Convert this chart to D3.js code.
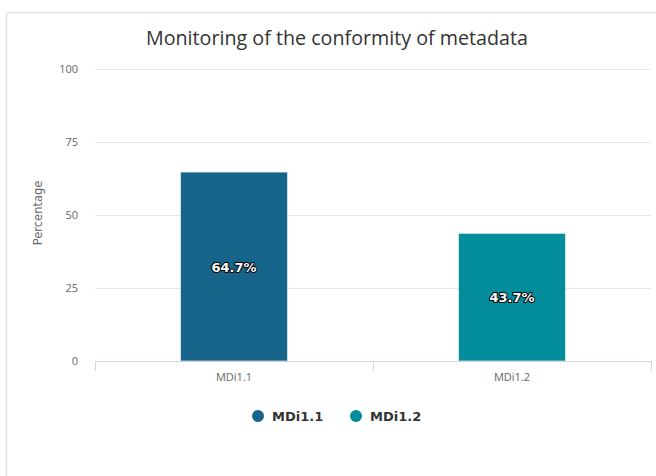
<!DOCTYPE html>
<html>
<head>
<meta charset="utf-8">
<script src="https://cdn.jsdelivr.net/npm/d3@7"></script>
<style>
  body { margin: 0; background: #fff; }
  svg { display: block; font-family: "Open Sans", "DejaVu Sans", sans-serif; }
</style>
</head>
<body>
<svg id="chart" width="656" height="476"></svg>
<script>
//Chart values
const categories = ['MDi1.1', 'MDi1.2'];
const values = [64.7, 43.7];
const colors = ['#17648b', '#028c9c'];
const yTicks = [0, 25, 50, 75, 100];
const titleText = 'Monitoring of the conformity of metadata';
const yTitle = 'Percentage';

const svg = d3.select('#chart');

//Outer card border
svg.append('rect')
    .attr('x', 6.5).attr('y', 12.5)
    .attr('width', 700).attr('height', 500)
    .attr('fill', 'none')
    .attr('stroke', '#e3e3e3')
    .attr('stroke-width', 1.5);

const plotLeft = 95, plotRight = 651, plotTop = 69, plotBottom = 361;

var x = d3.scaleBand()
    .domain(categories)
    .range([plotLeft, plotRight])
    .paddingInner(0)
    .paddingOuter(0);

var y = d3.scaleLinear()
    .domain([0, 100])
    .range([plotBottom, plotTop]);

//Title
svg.append('text')
    .attr('x', 337).attr('y', 45)
    .attr('text-anchor', 'middle')
    .attr('font-size', 19.7)
    .attr('fill', '#333333')
    .text(titleText);

//Gridlines
svg.append('g')
    .selectAll('line')
    .data(yTicks.filter(d => d > 0))
    .enter().append('line')
    .attr('x1', plotLeft).attr('x2', plotRight)
    .attr('y1', d => Math.round(y(d)) + 0.5)
    .attr('y2', d => Math.round(y(d)) + 0.5)
    .attr('stroke', '#e6e6e6');

//Y tick labels
svg.append('g')
    .selectAll('text')
    .data(yTicks)
    .enter().append('text')
    .attr('x', 78)
    .attr('y', d => y(d) + 4)
    .attr('text-anchor', 'end')
    .attr('font-size', 11)
    .attr('fill', '#666666')
    .text(d => d);

//Y axis title
svg.append('text')
    .attr('transform', 'translate(42,213) rotate(-90)')
    .attr('text-anchor', 'middle')
    .attr('font-family', 'DejaVu Sans')
    .attr('font-size', 11.5)
    .attr('fill', '#666666')
    .text(yTitle);

//Bars
const barW = 107;
svg.append('g')
    .selectAll('rect')
    .data(values)
    .enter().append('rect')
    .attr('x', (d, i) => x(categories[i]) + x.bandwidth() / 2 - barW / 2)
    .attr('y', d => y(d))
    .attr('width', barW)
    .attr('height', d => plotBottom - y(d))
    .attr('fill', (d, i) => colors[i])
    .attr('stroke', '#ffffff')
    .attr('stroke-opacity', 0.6)
    .attr('stroke-width', 1);

//X axis line
svg.append('line')
    .attr('x1', plotLeft).attr('x2', plotRight)
    .attr('y1', plotBottom + 0.5).attr('y2', plotBottom + 0.5)
    .attr('stroke', '#ccd6eb');

//X axis ticks at band edges
const tickXs = [plotLeft].concat(categories.map(c => x(c) + x.bandwidth()));
svg.append('g')
    .selectAll('line')
    .data(tickXs)
    .enter().append('line')
    .attr('x1', d => d + 0.5).attr('x2', d => d + 0.5)
    .attr('y1', plotBottom).attr('y2', plotBottom + 10)
    .attr('stroke', '#ccd6eb');

//X labels
svg.append('g')
    .selectAll('text')
    .data(categories)
    .enter().append('text')
    .attr('x', d => x(d) + x.bandwidth() / 2)
    .attr('y', 381)
    .attr('text-anchor', 'middle')
    .attr('font-size', 11)
    .attr('fill', '#666666')
    .text(d => d);

//Data labels with outline
svg.append('g')
    .selectAll('text')
    .data(values)
    .enter().append('text')
    .attr('x', (d, i) => x(categories[i]) + x.bandwidth() / 2)
    .attr('y', d => (y(d) + plotBottom) / 2 + 5)
    .attr('text-anchor', 'middle')
    .attr('font-family', 'DejaVu Sans')
    .attr('font-size', 13)
    .attr('font-weight', 'bold')
    .attr('fill', '#ffffff')
    .attr('stroke', '#000000')
    .attr('stroke-width', 2)
    .attr('stroke-linejoin', 'round')
    .attr('paint-order', 'stroke')
    .text(d => d.toFixed(1) + '%');

//Legend
const legendX = [258, 356];
const legend = svg.append('g')
    .selectAll('g')
    .data(categories)
    .enter().append('g')
    .attr('transform', (d, i) => 'translate(' + legendX[i] + ',416)');

legend.append('circle')
    .attr('r', 6)
    .attr('fill', (d, i) => colors[i]);

legend.append('text')
    .attr('x', 14)
    .attr('y', 5)
    .attr('font-family', 'DejaVu Sans')
    .attr('font-size', 13)
    .attr('font-weight', 'bold')
    .attr('fill', '#333333')
    .text(d => d);
</script>
</body>
</html>
